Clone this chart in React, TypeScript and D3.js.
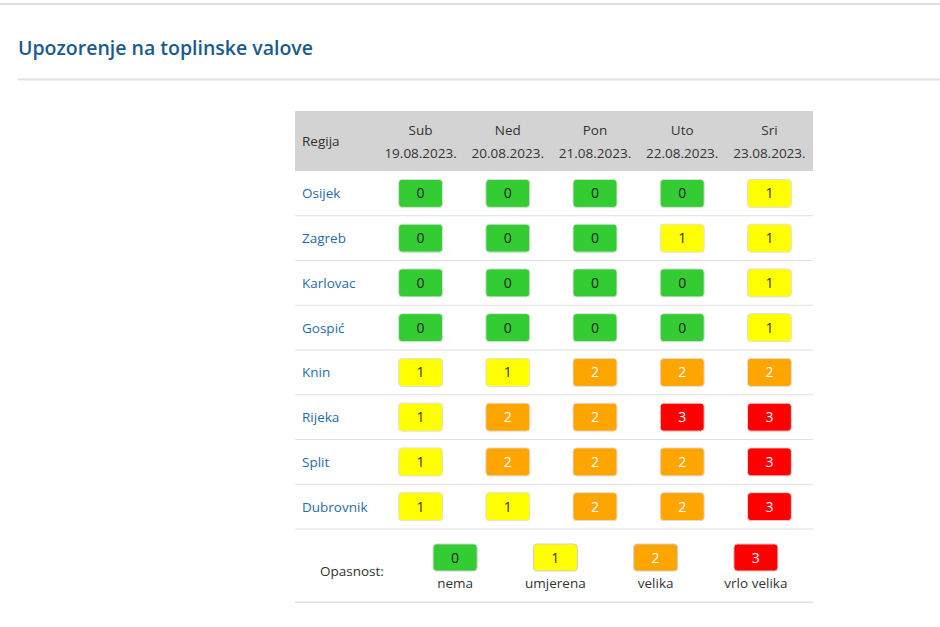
import React from "react";
import * as d3 from "d3";

const regions = ["Osijek", "Zagreb", "Karlovac", "Gospić", "Knin", "Rijeka", "Split", "Dubrovnik"];
const dayNames = ["Sub", "Ned", "Pon", "Uto", "Sri"];
const dates = ["19.08.2023.", "20.08.2023.", "21.08.2023.", "22.08.2023.", "23.08.2023."];
const osijek = [0, 0, 0, 0, 1];
const zagreb = [0, 0, 0, 1, 1];
const karlovac = [0, 0, 0, 0, 1];
const gospic = [0, 0, 0, 0, 1];
const knin = [1, 1, 2, 2, 2];
const rijeka = [1, 2, 2, 3, 3];
const split = [1, 2, 2, 2, 3];
const dubrovnik = [1, 1, 2, 2, 3];
const levels = [osijek, zagreb, karlovac, gospic, knin, rijeka, split, dubrovnik];
const legendLevels = [0, 1, 2, 3];
const legendLabels = ["nema", "umjerena", "velika", "vrlo velika"];
const levelColors = ["#33cc33", "#ffff00", "#ffa500", "#ff0000"];
const levelText = ["#222", "#333", "#ffffff", "#ffffff"];

const W = 940;
const H = 627;
const FONT = "'Open Sans', 'Noto Sans', sans-serif";

export default function App() {
  const tableLeft = 295;
  const tableRight = 813;
  const headerTop = 111;
  const headerBottom = 171;
  const bodyBottom = 529;
  const legendBottom = 602.5;

  const x = d3.scaleBand<string>().domain(dayNames).range([377, tableRight]);
  const y = d3.scaleBand<string>().domain(regions).range([headerBottom, bodyBottom]);
  const lx = d3.scaleBand<number>().domain(legendLevels).range([405, 806]);
  const color = d3.scaleOrdinal<number, string>().domain(legendLevels).range(levelColors);
  const tcolor = d3.scaleOrdinal<number, string>().domain(legendLevels).range(levelText);

  const bw = 44;
  const bh = 28;

  return (
    <div style={{ position: "absolute", left: 0, top: 0 }}>
      <svg width={W} height={H} style={{ display: "block", fontFamily: FONT }}>
        <rect x={0} y={0} width={W} height={H} fill="#fff" />
        <rect x={0} y={3} width={W} height={2} fill="#dee2e6" />
        <text x={18} y={55} fontSize={19.5} fontWeight={600} fill="#1a5a8c">
          Upozorenje na toplinske valove
        </text>
        <rect x={18} y={78.5} width={W - 18} height={2} fill="#dee2e6" />

        {/* header */}
        <rect x={tableLeft} y={headerTop} width={tableRight - tableLeft} height={headerBottom - headerTop} fill="#d3d3d3" />
        <text x={302} y={146} fontSize={13.5} fill="#333">Regija</text>
        {dayNames.map((d, i) => (
          <g key={d}>
            <text x={(x(d) ?? 0) + x.bandwidth() / 2} y={135} fontSize={13.5} fill="#333" textAnchor="middle">{d}</text>
            <text x={(x(d) ?? 0) + x.bandwidth() / 2} y={158} fontSize={13.5} fill="#333" textAnchor="middle">{dates[i]}</text>
          </g>
        ))}

        {/* rows */}
        {regions.map((r, ri) => {
          const y0 = y(r) ?? 0;
          const cy = y0 + y.bandwidth() / 2;
          return (
            <g key={r}>
              <text x={302} y={cy + 5} fontSize={13.5} fill="#1f6ca6">{r}</text>
              {dayNames.map((d, di) => {
                const v = levels[ri][di];
                const cx = (x(d) ?? 0) + x.bandwidth() / 2;
                return (
                  <g key={d}>
                    <rect x={cx - bw / 2} y={cy - bh / 2} width={bw} height={bh} rx={3.5} fill={color(v)} stroke="#e0e0e0" strokeWidth={1} />
                    <text x={cx} y={cy + 5} fontSize={14} fill={tcolor(v)} textAnchor="middle">{v}</text>
                  </g>
                );
              })}
              <rect x={tableLeft} y={y0 + y.bandwidth() - 0.5} width={tableRight - tableLeft} height={1} fill="#dee2e6" />
            </g>
          );
        })}

        {/* legend */}
        <text x={320} y={576} fontSize={13.5} fill="#333">Opasnost:</text>
        {legendLevels.map((l, i) => {
          const cx = (lx(l) ?? 0) + lx.bandwidth() / 2;
          return (
            <g key={l}>
              <rect x={cx - bw / 2} y={544} width={bw} height={27} rx={3.5} fill={color(l)} stroke="#cfcfcf" strokeWidth={1} />
              <text x={cx} y={562.5} fontSize={14} fill={tcolor(l)} textAnchor="middle">{l}</text>
              <text x={cx} y={588} fontSize={13.5} fill="#333" textAnchor="middle">{legendLabels[i]}</text>
            </g>
          );
        })}
        <rect x={tableLeft} y={legendBottom - 1} width={tableRight - tableLeft} height={1.5} fill="#dee2e6" />
      </svg>
    </div>
  );
}
